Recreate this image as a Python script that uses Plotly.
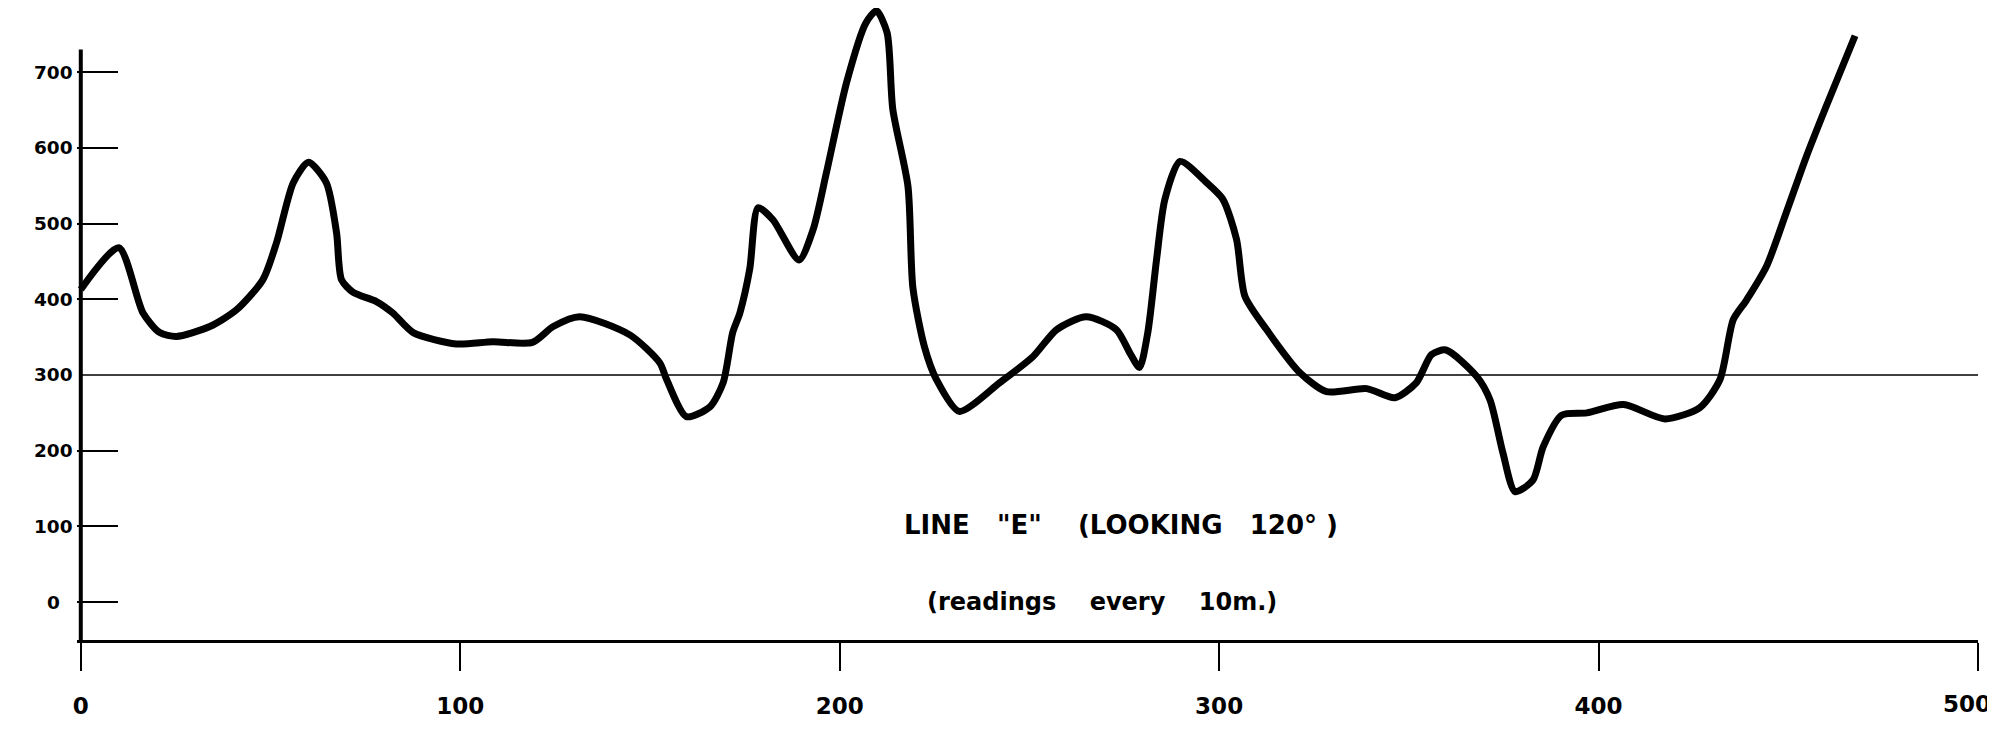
import plotly.graph_objects as go

# Distance along line (m) and readings
distance_m = [0, 10, 16.4, 20.8, 25.2, 34, 41, 48, 51.6, 56, 60, 64.7, 67.4, 68.7, 71.8,
              77.9, 82.2, 87.6, 99, 108.6, 119, 124.5, 131.5, 144.7, 152.6, 154.4, 159.6,
              165.8, 169.3, 171.8, 173.7, 176.3, 178.5, 182.4, 189.3, 193, 196.5, 201.8,
              206.9, 209.7, 212.5, 214, 218, 219.3, 222.3, 225.5, 231.5, 242.2, 250.9, 257.2, 265,
              272.9, 276.5, 279, 281.2, 283.5, 285.7, 289.7, 296.7, 301, 304.6, 306.8,
              312.5, 321.3, 328.3, 338.9, 346.3, 352, 356, 359.8, 367.9, 371.4, 374.8,
              378, 382.7, 385.4, 390.3, 396.9, 406.6, 417.5, 426.7, 432, 435.5, 439,
              444.3, 449.5, 454.8, 460, 467.6]
reading = [413, 468, 382, 356, 351, 364, 386, 426, 475, 554, 581, 554, 488, 426, 409,
           397, 382, 356, 341, 344, 343, 364, 377, 353, 316, 294, 245,
           258, 290, 356, 382, 440, 521, 505, 452, 492, 567, 686,
           765, 781, 752, 651, 549, 415, 338, 294, 252, 290, 324, 360, 377,
           360, 329, 310, 356, 452, 532, 582, 554, 532, 479, 404,
           360, 303, 278, 282, 270, 290, 327, 333, 298, 267, 197,
           146, 161, 205, 247, 250, 261, 242, 257, 294, 373, 399,
           444, 515, 589, 655, 748]

x_tick_vals = [0, 100, 200, 300, 400, 500]
x_tick_text = ["0", "100", "200", "300", "400", "500"]
y_tick_vals = [0, 100, 200, 300, 400, 500, 600, 700]
y_tick_text = ["0", "100", "200", "300", "400", "500", "600", "700"]

title_text = "LINE\u00a0\u00a0\u00a0\"E\"\u00a0\u00a0\u00a0\u00a0(LOOKING\u00a0\u00a0\u00a0120°\u00a0)"
subtitle_text = "(readings\u00a0\u00a0\u00a0\u00a0every\u00a0\u00a0\u00a0\u00a010m.)"

FONT = "DejaVu Sans"

fig = go.Figure()
fig.add_trace(go.Scatter(
    x=distance_m, y=reading, mode="lines",
    line=dict(color="black", width=7, shape="spline", smoothing=0.7),
    showlegend=False, hoverinfo="skip",
))

# y axis line (stops at ~730) and the 300 reference line
fig.add_shape(type="line", xref="x", yref="y", x0=0, x1=0, y0=-50, y1=730,
              line=dict(color="black", width=4))
fig.add_shape(type="line", xref="x", yref="y", x0=0, x1=500, y0=300, y1=300,
              line=dict(color="black", width=1.5))

for v, t in zip(y_tick_vals, y_tick_text):
    fig.add_annotation(x=-0.0126, xref="paper", y=v, yref="y", text=t, showarrow=False,
                       xanchor="center", yanchor="middle",
                       font=dict(family=FONT, size=18.5, color="black", weight="bold"))

# last x tick label kept inside the page (the tick sits at the page edge)
fig.add_annotation(x=1.0079, xref="paper", y=-0.1006, yref="paper", text=x_tick_text[-1],
                   showarrow=False, xanchor="right", yanchor="middle",
                   font=dict(family=FONT, size=23, color="black", weight="bold"))

fig.add_annotation(x=274.2, y=101.5, xref="x", yref="y", text=title_text, showarrow=False,
                   xanchor="center", yanchor="middle",
                   font=dict(family=FONT, size=26, color="black", weight="bold"))
fig.add_annotation(x=269.2, y=0, xref="x", yref="y", text=subtitle_text, showarrow=False,
                   xanchor="center", yanchor="middle",
                   font=dict(family=FONT, size=24, color="black", weight="bold"))

fig.update_layout(
    width=1995, height=731,
    margin=dict(l=69, r=25, t=0, b=99, pad=0),
    paper_bgcolor="white", plot_bgcolor="white",
    xaxis=dict(range=[-1, 500], showgrid=False, zeroline=False,
               showline=True, linecolor="black", linewidth=3,
               ticks="outside", ticklen=28, tickwidth=1.5, tickcolor="black",
               tickvals=x_tick_vals, ticktext=x_tick_text[:-1] + [""],
               ticklabelstandoff=15,
               tickfont=dict(family=FONT, size=23, color="black", weight="bold")),
    yaxis=dict(range=[-50, 784.7], showgrid=False, zeroline=False, showline=False,
               ticks="inside", ticklen=41, tickwidth=1.5, tickcolor="black",
               tickvals=[0, 100, 200, 400, 500, 600, 700],
               showticklabels=False),
)

fig.write_html("out.html")
